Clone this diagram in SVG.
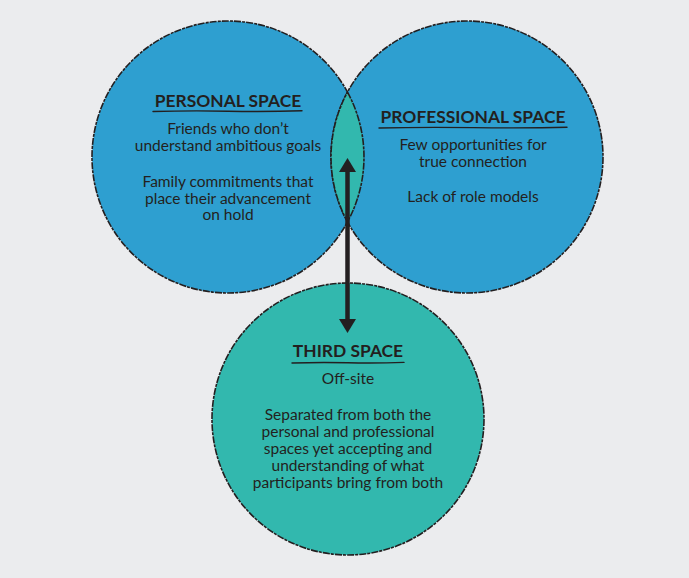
<svg xmlns="http://www.w3.org/2000/svg" width="689" height="578" viewBox="0 0 689 578">
  <style>
    .circle { stroke: #231F20; stroke-width: 1.6; stroke-dasharray: 7 1.2 3 1; }
    .blue { fill: #2E9FD0; }
    .teal { fill: #32B8AE; }
    .title { font-family: Lato, "Noto Sans", sans-serif; font-weight: bold; font-size: 17.4px; fill: #231F20; text-anchor: middle; }
    .body { font-family: Lato, "Noto Sans", sans-serif; font-size: 15.5px; fill: #231F20; text-anchor: middle; }
    .uline { fill: none; stroke: #231F20; stroke-width: 1.4; stroke-linecap: round; }
    .arrow { stroke: #231F20; stroke-width: 4.5; fill: none; }
  </style>
  <defs>
    <marker id="head" viewBox="0 0 14 17" refX="0" refY="8.5" markerWidth="14" markerHeight="17" markerUnits="userSpaceOnUse" orient="auto-start-reverse">
      <path d="M0,0 L14,8.5 L0,17 Z" fill="#231F20"/>
    </marker>
  </defs>
  <rect width="689" height="578" fill="#EBECEE"/>

  <g id="personal-space">
    <circle class="circle blue" cx="228" cy="157" r="136"/>
  </g>
  <g id="professional-space">
    <circle class="circle blue" cx="467" cy="157" r="136"/>
  </g>
  <g id="overlap">
    <path class="circle teal" d="M347.5,92.1 A136,136 0 0 1 347.5,221.9 A136,136 0 0 1 347.5,92.1 Z"/>
  </g>
  <g id="third-space">
    <circle class="circle teal" cx="348" cy="419" r="136"/>
  </g>

  <g id="personal-space-text">
    <text class="title" x="228" y="107">PERSONAL SPACE</text>
    <path class="uline" d="M153,111.5 Q190,110.5 228,111.2 T302,110.8"/>
    <text class="body" x="228" y="134">Friends who don’t</text>
    <text class="body" x="228" y="151">understand ambitious goals</text>
    <text class="body" x="228" y="187">Family commitments that</text>
    <text class="body" x="228" y="203.5">place their advancement</text>
    <text class="body" x="228" y="220">on hold</text>
  </g>

  <g id="professional-space-text">
    <text class="title" x="473" y="123">PROFESSIONAL SPACE</text>
    <path class="uline" d="M379,128 Q420,127 473,127.6 T567,127.3"/>
    <text class="body" x="473" y="150">Few opportunities for</text>
    <text class="body" x="473" y="167">true connection</text>
    <text class="body" x="473" y="202">Lack of role models</text>
  </g>

  <g id="third-space-text">
    <text class="title" x="348" y="357">THIRD SPACE</text>
    <path class="uline" d="M292,363 Q320,362.2 348,362.8 T404,362.4"/>
    <text class="body" x="348" y="384">Off-site</text>
    <text class="body" x="348" y="420">Separated from both the</text>
    <text class="body" x="348" y="437">personal and professional</text>
    <text class="body" x="348" y="454">spaces yet accepting and</text>
    <text class="body" x="348" y="471">understanding of what</text>
    <text class="body" x="348" y="488">participants bring from both</text>
  </g>

  <g id="connectors">
    <line class="arrow" x1="347.5" y1="172" x2="347.5" y2="319" marker-start="url(#head)" marker-end="url(#head)"/>
  </g>
</svg>
